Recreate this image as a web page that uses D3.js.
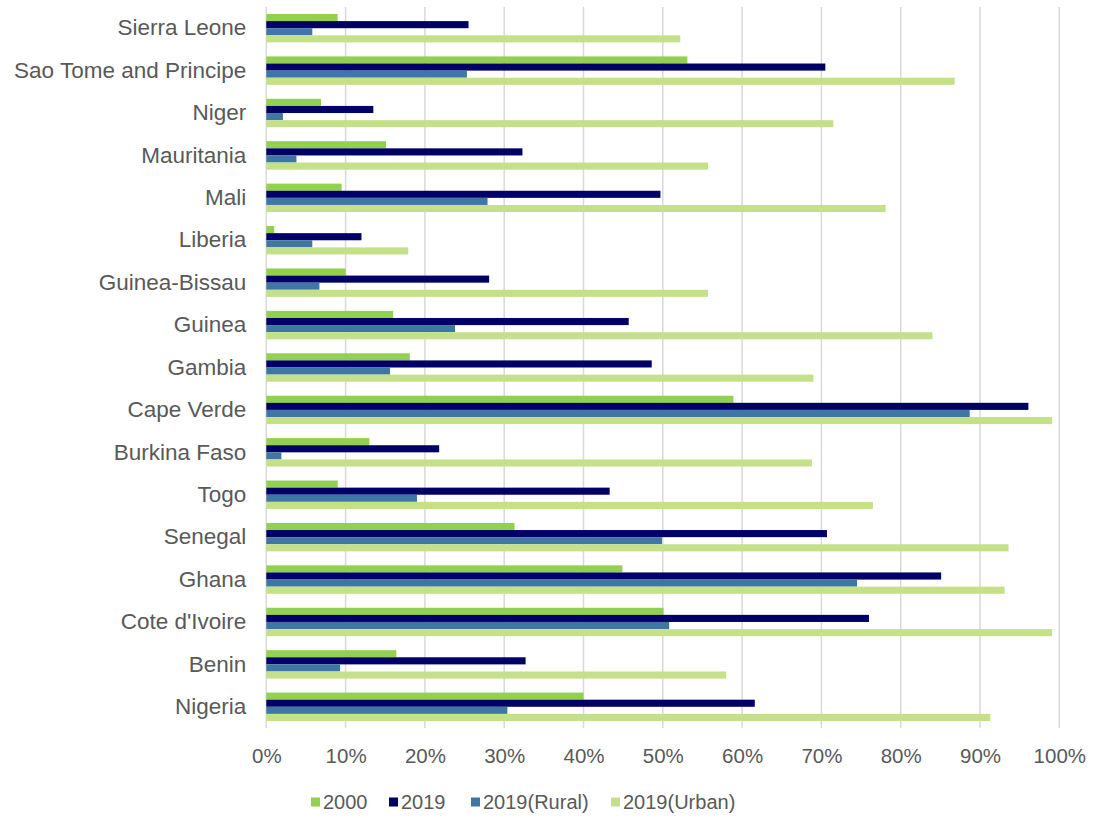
<!DOCTYPE html>
<html>
<head>
<meta charset="utf-8">
<script src="https://cdn.jsdelivr.net/npm/d3@7"></script>
<style>
  html, body { margin: 0; padding: 0; background: #fff; }
  svg { display: block; font-family: "Liberation Sans", Arial, sans-serif; }
</style>
</head>
<body>
<svg id="chart" width="1094" height="818"></svg>
<script>
// Countries, listed top to bottom
const countries = ["Sierra Leone", "Sao Tome and Principe", "Niger", "Mauritania", "Mali", "Liberia",
  "Guinea-Bissau", "Guinea", "Gambia", "Cape Verde", "Burkina Faso", "Togo", "Senegal", "Ghana",
  "Cote d'Ivoire", "Benin", "Nigeria"];

// Share of population (%) per series, same order as countries
const values2000 = [9.0, 53.1, 6.9, 15.1, 9.5, 1.0, 10.0, 16.0, 18.1, 58.9, 13.0, 9.0, 31.3, 44.9, 50.1, 16.4, 40.0];
const values2019 = [25.5, 70.5, 13.5, 32.3, 49.7, 12.0, 28.1, 45.7, 48.6, 96.1, 21.8, 43.3, 70.7, 85.1, 76.0, 32.7, 61.6];
const values2019Rural = [5.8, 25.3, 2.1, 3.8, 27.9, 5.8, 6.7, 23.8, 15.6, 88.7, 1.9, 19.0, 49.9, 74.5, 50.8, 9.3, 30.4];
const values2019Urban = [52.2, 86.8, 71.5, 55.7, 78.1, 17.9, 55.7, 84.0, 69.0, 99.1, 68.8, 76.5, 93.6, 93.1, 99.1, 58.0, 91.3];

const seriesNames = ["2000", "2019", "2019(Rural)", "2019(Urban)"];
const seriesColors = ["#92d050", "#000066", "#3f77a4", "#c4e18a"];
const tickValues = [0, 10, 20, 30, 40, 50, 60, 70, 80, 90, 100];

const seriesValues = [values2000, values2019, values2019Rural, values2019Urban];
const rows = countries.map((c, i) => ({ country: c, vals: seriesValues.map(s => s[i]) }));

const svg = d3.select("#chart");
const W = 1094, H = 818;
const margin = { left: 266.3, right: W - 1059.3, top: 7, bottom: H - 728 };

const x = d3.scaleLinear().domain([0, 100]).range([margin.left, W - margin.right]);
const y = d3.scaleBand().domain(countries).range([margin.top, H - margin.bottom]).paddingInner(0.33).paddingOuter(0.165);
const ySub = d3.scaleBand().domain(seriesNames).range([0, y.bandwidth()]);

// Vertical gridlines
svg.append("g")
  .selectAll("line")
  .data(tickValues)
  .join("line")
  .attr("x1", d => x(d)).attr("x2", d => x(d))
  .attr("y1", margin.top).attr("y2", H - margin.bottom)
  .attr("stroke", "#d9d9d9").attr("stroke-width", 1.5);

// Bars
const groups = svg.append("g")
  .selectAll("g")
  .data(rows)
  .join("g")
  .attr("transform", d => `translate(0,${y(d.country)})`);

groups.selectAll("rect")
  .data(d => d.vals.map((v, j) => ({ v, j })))
  .join("rect")
  .attr("x", x(0))
  .attr("y", d => ySub(seriesNames[d.j]))
  .attr("width", d => x(d.v) - x(0))
  .attr("height", ySub.bandwidth())
  .attr("fill", d => seriesColors[d.j]);

// Category axis labels
const yAxis = d3.axisLeft(y).tickSize(0).tickPadding(20);
const gy = svg.append("g").attr("transform", `translate(${x(0)},0)`).call(yAxis);
gy.select(".domain").remove();
gy.selectAll("text")
  .attr("fill", "#595959")
  .style("font-size", "22.5px")
  .style("font-family", "\"Liberation Sans\", Arial, sans-serif");

// Value axis labels
const xAxis = d3.axisBottom(x).tickValues(tickValues).tickFormat(d => d + "%").tickSize(0).tickPadding(20);
const gx = svg.append("g").attr("transform", `translate(0,${H - margin.bottom})`).call(xAxis);
gx.select(".domain").remove();
gx.selectAll("text")
  .attr("fill", "#595959")
  .style("font-size", "20.5px")
  .style("font-family", "\"Liberation Sans\", Arial, sans-serif");

// Legend
const legendX = [311, 389, 471, 611];
const legend = svg.append("g")
  .selectAll("g")
  .data(seriesNames)
  .join("g")
  .attr("transform", (d, i) => `translate(${legendX[i]},802)`);
legend.append("rect")
  .attr("x", 0).attr("y", -4.5).attr("width", 9).attr("height", 9)
  .attr("fill", (d, i) => seriesColors[i]);
legend.append("text")
  .attr("x", 12).attr("y", 0).attr("dy", "0.35em")
  .attr("fill", "#595959")
  .style("font-size", "20px")
  .text(d => d);
</script>
</body>
</html>
